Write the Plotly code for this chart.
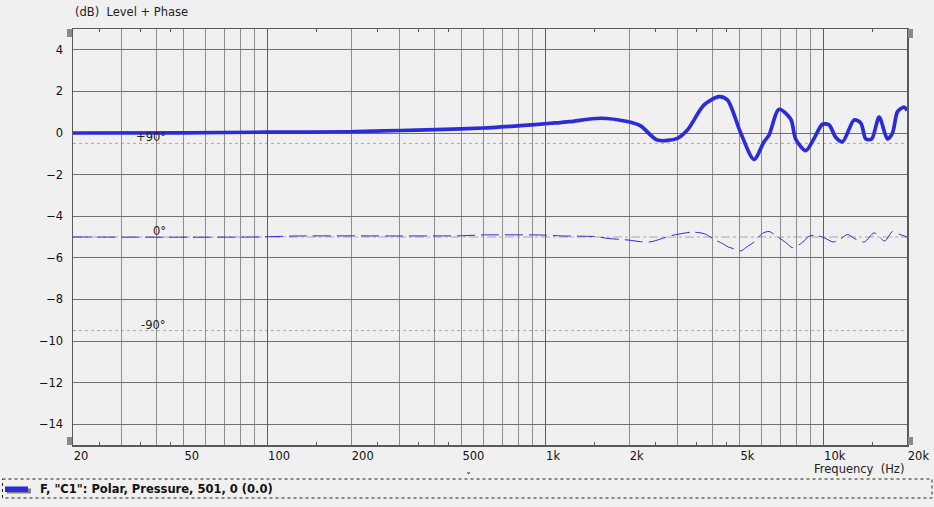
import numpy as np
import plotly.graph_objects as go

# ---------------- data ----------------
mag_freq = [20, 50, 100, 200, 260, 346, 467, 600, 690, 814, 1044, 1134, 1235, 1580, 1972, 2202,
            2529, 2985, 3244, 3724, 4215, 4518, 5045, 5636, 6120, 6380, 6930, 7637, 7960, 8650,
            9265, 9930, 10490, 11090, 11730, 12910, 13650, 14220, 14920, 15880, 17020, 17740,
            18500, 19550, 20000]
mag_db = [0.0, 0.01, 0.04, 0.06, 0.1, 0.14, 0.19, 0.24, 0.29, 0.35, 0.47, 0.5, 0.55, 0.71, 0.55, 0.34,
          -0.34, -0.26, 0.14, 1.35, 1.75, 1.59, 0.0, -1.27, -0.42, -0.1, 1.14, 0.66, -0.3, -0.85,
          -0.26, 0.42, 0.39, -0.21, -0.42, 0.63, 0.47, -0.29, -0.29, 0.76, -0.29, 0.0,
          1.03, 1.24, 1.08]

phase_freq = [20, 90, 130, 300, 500, 600, 900, 1000, 1150, 1500, 1700, 2000, 2200, 2400, 2750,
              2850, 3333, 3450, 3750, 4040, 4350, 4550, 4800, 5050, 5262, 5636, 6040, 6380, 6840,
              7329, 7745, 8298, 8889, 9395, 10070, 10860, 11490, 12220, 13090, 14030, 15240,
              15880, 16640, 17740, 18750, 20000]
phase_deg = [0, 0, 1, 1, 1.2, 2, 2, 1.8, 1, 0.4, -1.5, -3, -4.5, -4.6, 0.3,
             1.5, 4.6, 4.6, 3, -2.2, -6.4, -9.6, -11.5, -13.4, -10.2, -4.8, 3.4, 5.3, 0.2,
             -5.3, -10.2, -6.4, 0.7, 1.7, -0.7, -4.8, -2.2, 2.4, -2.2, -4.8, 4,
             0.2, -3.8, 5.3, 2.7, 0]

phase_ref_deg = [90, 0, -90]
phase_ref_text = ["+90°", "0°", "-90°"]
phase_zero_db = -5.0
db_per_deg = 0.05

x_label_freqs = [20, 50, 100, 200, 500, 1000, 2000, 5000, 10000, 20000]
x_label_text = ["20", "50", "100", "200", "500", "1k", "2k", "5k", "10k", "20k"]
light_grid_freqs = [30, 40, 50, 60, 70, 80, 90, 200, 300, 400, 500, 600, 700, 800, 900,
                    2000, 3000, 4000, 5000, 6000, 7000, 8000, 9000]
decade_freqs = [100, 1000, 10000]
small_tick_freqs = [25, 35, 45, 150, 250, 350, 450, 1500, 2500, 3500, 4500, 15000]
y_ticks = [4, 2, 0, -2, -4, -6, -8, -10, -12, -14]

legend_text = 'F, "C1": Polar, Pressure, 501, 0 (0.0)'

# ---------------- style ----------------
BLUE = "#2b2bd8"
BG = "#f0f0f0"
FONT = "DejaVu Sans"
W, H = 934, 507
L, R, T, B = 73, 907, 29, 445


def px(x):
    return (x - L) / (R - L)


def py(y):
    return (B - y) / (B - T)


phase_db = [phase_zero_db + d * db_per_deg for d in phase_deg]

fig = go.Figure()

# phase reference lines
for d in phase_ref_deg:
    fig.add_shape(type="line", xref="paper", x0=0, x1=1, yref="y",
                  y0=phase_zero_db + d * db_per_deg, y1=phase_zero_db + d * db_per_deg,
                  line=dict(color="#a8a8a8", width=1, dash="dashdot" if d == 0 else "dot"),
                  layer="below")

fig.add_trace(go.Scatter(x=phase_freq, y=phase_db, mode="lines",
                         line=dict(color=BLUE, width=1, dash="18px,6px", shape="spline", smoothing=0.8),
                         hoverinfo="skip", showlegend=False))
fig.add_trace(go.Scatter(x=mag_freq, y=mag_db, mode="lines",
                         line=dict(color=BLUE, width=3.7, shape="spline", smoothing=0.8),
                         hoverinfo="skip", showlegend=False))
# empty traces to instantiate overlay axes
fig.add_trace(go.Scatter(x=[], y=[], xaxis="x2", showlegend=False, hoverinfo="skip"))
fig.add_trace(go.Scatter(x=[], y=[], xaxis="x3", showlegend=False, hoverinfo="skip"))

xr = [np.log10(20), np.log10(20000)]
fig.update_layout(
    width=W, height=H, autosize=False,
    margin=dict(l=L, r=W - R, t=T, b=H - B, pad=0, autoexpand=False),
    paper_bgcolor=BG, plot_bgcolor=BG,
    font=dict(family=FONT, size=11, color="#111"),
    showlegend=False,
    xaxis=dict(type="log", range=xr, tickvals=x_label_freqs, ticktext=x_label_text, automargin=False,
               ticklabelposition="outside right", ticks="", showgrid=False, zeroline=False,
               showline=True, linecolor="#5a5a5a", linewidth=1.5, mirror=True,
               tickfont=dict(size=11.5, color="#111"),
               minor=dict(tickvals=light_grid_freqs, showgrid=True, gridcolor="#8e8e8e",
                          gridwidth=1, ticks="")),
    xaxis2=dict(type="log", range=xr, overlaying="x", anchor="y", tickvals=small_tick_freqs,
                automargin=False,
                ticks="inside", ticklen=3, tickcolor="#5a5a5a", tickwidth=1, mirror="ticks",
                showticklabels=False, showgrid=False, zeroline=False, showline=False),
    xaxis3=dict(type="log", range=xr, overlaying="x", anchor="y", tickvals=decade_freqs,
                automargin=False,
                ticks="", showticklabels=False, showgrid=True, gridcolor="#5e5e5e", gridwidth=1,
                zeroline=False, showline=False),
    yaxis=dict(range=[-15, 5], tickvals=y_ticks, ticks="", showgrid=True, gridcolor="#707070",
               automargin=False,
               gridwidth=1, zeroline=False, showline=True, linecolor="#5a5a5a", linewidth=1.5,
               mirror=True, ticklabelstandoff=6, tickfont=dict(size=11.5, color="#111")),
)

# phase reference labels
for d, t in zip(phase_ref_deg, phase_ref_text):
    fig.add_annotation(x=np.log10(43.9), y=phase_zero_db + d * db_per_deg, xref="x", yref="y",
                       text=t, showarrow=False, xanchor="right", yanchor="middle", yshift=6,
                       font=dict(size=11.5, color="#222"))

# title and axis caption
fig.add_annotation(x=px(73), y=py(12), xref="paper", yref="paper", text="(dB)\u00a0\u00a0Level + Phase",
                   showarrow=False, xanchor="left", yanchor="middle", font=dict(size=11.5, color="#222"))
fig.add_annotation(x=px(906), y=py(468.5), xref="paper", yref="paper", text="Frequency\u00a0\u00a0(Hz)",
                   showarrow=False, xanchor="right", yanchor="middle", font=dict(size=11.5, color="#222"))

# corner tabs
for (x0, x1, y0, y1) in [(67, 72, 29, 37), (67, 72, 437, 445), (908, 913, 29, 38), (908, 913, 437, 445)]:
    fig.add_shape(type="rect", xref="paper", yref="paper", x0=px(x0), x1=px(x1), y0=py(y0), y1=py(y1),
                  fillcolor="#8a8a8a", line=dict(width=0))

# legend box
fig.add_shape(type="rect", xref="paper", yref="paper", x0=px(2.5), x1=px(932), y0=py(479), y1=py(498),
              line=dict(color="#222", width=1, dash="dot"), fillcolor="rgba(0,0,0,0)")
fig.add_shape(type="rect", xref="paper", yref="paper", x0=px(7), x1=px(31), y0=py(488.5), y1=py(493.5),
              fillcolor="#808080", line=dict(width=0))
fig.add_shape(type="rect", xref="paper", yref="paper", x0=px(5), x1=px(28), y0=py(486.5), y1=py(492),
              fillcolor=BLUE, line=dict(width=0))
fig.add_annotation(x=px(38), y=py(489), xref="paper", yref="paper", text="<b>" + legend_text + "</b>",
                   showarrow=False, xanchor="left", yanchor="middle", font=dict(size=11.5, color="#111"))
fig.add_annotation(x=px(468), y=py(477), xref="paper", yref="paper", text="ˇ",
                   showarrow=False, xanchor="center", yanchor="middle", font=dict(size=10, color="#111"))

fig.write_html("out.html", config={"displayModeBar": False, "staticPlot": True},
               post_script="document.body.style.margin='0';document.body.style.overflow='hidden';")
